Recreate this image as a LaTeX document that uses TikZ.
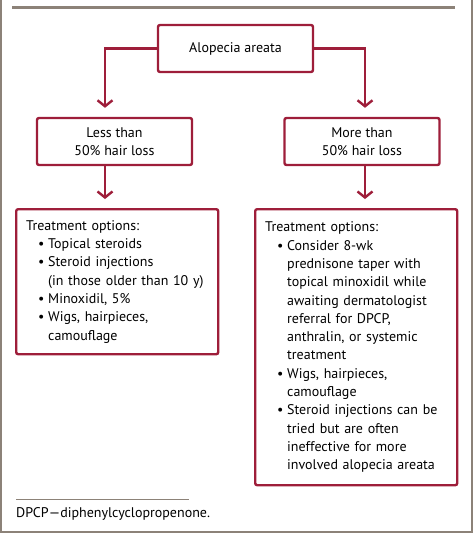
\documentclass[tikz,border=0pt]{standalone}
\usepackage{fontspec}
\setmainfont{PT Sans}
\usetikzlibrary{arrows.meta}

\definecolor{boxred}{RGB}{158,30,58}
\definecolor{framegray}{RGB}{140,130,120}
\newcommand\itm{\hspace*{12pt}\makebox[10pt][l]{\textbullet}}
\newcommand\cnt{\hspace*{22pt}}

\begin{document}
\begin{tikzpicture}[x=1pt,y=-1pt,
  font=\fontsize{14}{18.3}\selectfont,
  box/.style={draw=boxred,line width=2.4pt,rounded corners=2pt,align=center,
    minimum width=155pt,minimum height=47pt,inner sep=0pt},
  optbox/.style={draw=boxred,line width=2.4pt,rounded corners=2pt,align=left,
    text width=182pt,inner xsep=10pt,inner ysep=0pt,anchor=north west},
  link/.style={draw=boxred,line width=2.4pt,shorten >=9pt,
    -{Straight Barb[length=6pt,width=15pt]}}]

\useasboundingbox (0,0) rectangle (474,533);
\draw[framegray,line width=2.5pt] (1,0) -- (1,532) -- (472,532) -- (472,0);
\draw[framegray,line width=3pt] (12,7) -- (455,7);

\node[box] (alo) at (235.5,48.5) {Alopecia areata};
\node[box] (less) at (114.5,141.5) {Less than\\50\% hair loss};
\node[box] (more) at (362,141.5) {More than\\50\% hair loss};

\node[optbox,minimum height=145pt] (lopt) at (15,208) {Treatment options:\\
\itm Topical steroids\\
\itm Steroid injections\\
\cnt (in those older than 10 y)\\
\itm Minoxidil, 5\%\\
\itm Wigs, hairpieces,\\
\cnt camouflage};

\node[optbox,minimum height=276pt] (ropt) at (254,208) {Treatment options:\\
\itm Consider 8-wk\\
\cnt prednisone taper with\\
\cnt topical minoxidil while\\
\cnt awaiting dermatologist\\
\cnt referral for DPCP,\\
\cnt anthralin, or systemic\\
\cnt treatment\\
\itm Wigs, hairpieces,\\
\cnt camouflage\\
\itm Steroid injections can be\\
\cnt tried but are often\\
\cnt ineffective for more\\
\cnt involved alopecia areata};

\draw[link] (alo.west) -| ([xshift=-9.5pt]less.north);
\draw[link] (alo.east) -| ([xshift=3pt]more.north);
\draw[link] ([xshift=-9.5pt]less.south) -- ([xshift=-9.5pt]less.south |- lopt.north);
\draw[link] ([xshift=3pt]more.south) -- ([xshift=3pt]more.south |- ropt.north);

\draw[framegray,line width=1pt] (16,499) -- (189,499);
\node[anchor=west,inner sep=0pt] (note) at (16,514) {DPCP\textemdash diphenylcyclopropenone.};
\end{tikzpicture}
\end{document}
